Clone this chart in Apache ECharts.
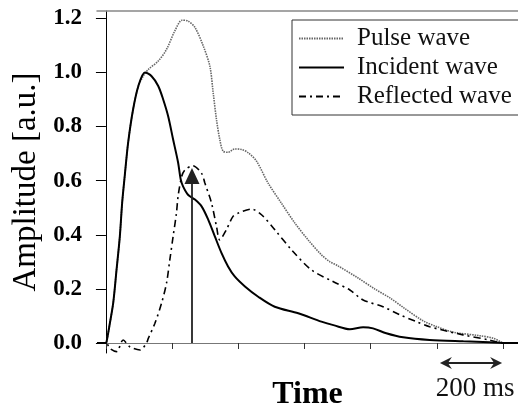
<!DOCTYPE html>
<html>
<head>
<meta charset="utf-8">
<script src="https://cdn.jsdelivr.net/npm/echarts@6/dist/echarts.min.js"></script>
<style>
html, body { margin: 0; padding: 0; background: #fff; }
#chart_main { width: 518px; height: 410px; }
</style>
</head>
<body>
<div id="chart_main"></div>
<script>
// time in ms, amplitude in a.u.
var pulseWave = [
	[-27,0],[0,0],[2,0.005],[12,0.074],[22,0.148],[32,0.27],[42,0.394],[49,0.518],[57,0.62],[67,0.74],
	[82,0.863],[98,0.95],[112,0.985],[128,1.011],[158,1.042],[183,1.085],[208,1.153],[230,1.193],[248,1.19],
	[269,1.166],[294,1.098],[314,1.023],[324,0.925],[334,0.826],[344,0.752],[354,0.709],[369,0.705],
	[389,0.717],[410,0.715],[430,0.703],[455,0.672],[490,0.591],[530,0.517],[571,0.443],[611,0.381],
	[651,0.326],[676,0.301],[701,0.285],[762,0.24],[812,0.2],[860,0.165],[900,0.13],[958,0.082],
	[1000,0.06],[1049,0.04],[1129,0.027],[1169,0.018],[1190,0.006],[1200,0],[1245,0]
];
var incidentWave = [
	[-27,0],[0,0],[2,0.005],[12,0.074],[22,0.148],[32,0.27],[42,0.394],[49,0.518],[57,0.62],[67,0.74],
	[82,0.863],[98,0.95],[118,1.0],[138,0.986],[158,0.95],[173,0.9],[188,0.838],[203,0.752],[218,0.667],
	[226,0.604],[233,0.579],[248,0.548],[269,0.53],[289,0.505],[309,0.456],[329,0.394],[349,0.333],
	[369,0.283],[389,0.246],[420,0.209],[460,0.171],[510,0.134],[581,0.11],[651,0.079],[690,0.065],
	[737,0.051],[777,0.058],[807,0.054],[847,0.036],[898,0.021],[978,0.011],[1080,0.006],[1159,0.003],
	[1200,0],[1245,0]
];
var reflectedWave = [
	[-27,0],[0,0],[12,-0.02],[32,-0.032],[52,0.011],[72,-0.014],[103,-0.026],[123,0.001],[128,0.017],
	[148,0.073],[168,0.147],[183,0.221],[193,0.307],[203,0.394],[213,0.48],[218,0.542],[229,0.616],
	[239,0.64],[262,0.655],[289,0.627],[299,0.591],[319,0.517],[334,0.431],[344,0.381],[364,0.419],
	[384,0.468],[400,0.48],[440,0.495],[470,0.474],[510,0.419],[561,0.344],[621,0.27],[686,0.227],
	[737,0.196],[777,0.159],[837,0.134],[888,0.104],[938,0.079],[978,0.06],[1079,0.03],[1159,0.011],
	[1200,0],[1245,0]
];
var seriesNames = ['Pulse wave', 'Incident wave', 'Reflected wave'];
var xTicks = [0, 200, 400, 600, 800, 1000, 1200];
var yTicks = [0, 0.2, 0.4, 0.6, 0.8, 1.0, 1.2];
var arrowAt = [260, 0.617];     // vertical arrow (time, head)
var scaleBar = [1000, 1200];    // 200 ms bar

var serif = "'Liberation Serif', 'Times New Roman', serif";

$ready();

function $ready() {
	var dom = document.getElementById("chart_main");
	var myChart = echarts.init(dom);
	var option = {
		animation: false,
		grid: { left: 97, top: 11, right: 0, bottom: 57, outerBoundsMode: 'none', containLabel: false },
		legend: {
			orient: 'vertical',
			left: 292,
			top: 20,
			data: seriesNames,
			itemWidth: 45,
			itemHeight: 12,
			itemGap: 4,
			padding: [6, 7, 6, 6],
			borderColor: '#333',
			borderWidth: 1,
			itemStyle: { opacity: 0 },
			textStyle: {
				fontFamily: serif,
				fontSize: 25,
				color: '#111',
				lineHeight: 25,
				padding: [0, 0, 0, 8]
			}
		},
		xAxis: [{
			type: 'value',
			min: -27,
			max: 1245,
			name: 'Time',
			nameLocation: 'middle',
			nameGap: 26,
			nameTextStyle: { fontFamily: serif, fontSize: 32, fontWeight: 'bold', color: '#000' },
			splitLine: { show: false },
			axisLine: { lineStyle: { color: '#777', width: 1 } },
			axisTick: { show: true, length: 6, customValues: xTicks, lineStyle: { color: '#333' } },
			axisLabel: { show: false }
		}, {
			type: 'value',
			position: 'top',
			min: -27,
			max: 1245,
			splitLine: { show: false },
			axisLine: { show: true, lineStyle: { color: '#888', width: 1.5 } },
			axisTick: { show: false },
			axisLabel: { show: false }
		}],
		yAxis: {
			type: 'value',
			min: -0.037,
			max: 1.227,
			name: 'Amplitude [a.u.]',
			nameLocation: 'middle',
			nameGap: 49,
			nameTextStyle: { fontFamily: serif, fontSize: 33, color: '#000' },
			splitLine: { show: false },
			axisLine: { show: true, lineStyle: { color: '#000', width: 1 } },
			axisTick: { show: true, length: 10, customValues: yTicks, lineStyle: { color: '#000' } },
			axisLabel: {
				customValues: yTicks,
				margin: 15,
				fontFamily: serif,
				fontSize: 23,
				fontWeight: 'bold',
				color: '#000',
				formatter: function (v) { return v.toFixed(1); }
			}
		},
		series: [{
			name: seriesNames[0],
			type: 'line',
			data: pulseWave,
			smooth: 0.3,
			symbol: 'none',
			lineStyle: { color: '#666', width: 1.6, type: [1.5, 1] },
			itemStyle: { color: '#666' }
		}, {
			name: seriesNames[1],
			type: 'line',
			data: incidentWave,
			smooth: 0.3,
			symbol: 'none',
			lineStyle: { color: '#000', width: 2 },
			itemStyle: { color: '#000' },
			markLine: {
				silent: true,
				symbol: ['none', 'triangle'],
				symbolSize: [15, 16],
				label: { show: false },
				lineStyle: { color: '#222', width: 1.8, type: 'solid' },
				data: [[{ coord: [arrowAt[0], 0] }, { coord: [arrowAt[0], arrowAt[1]] }]]
			}
		}, {
			name: seriesNames[2],
			type: 'line',
			data: reflectedWave,
			smooth: 0.3,
			symbol: 'none',
			lineStyle: { color: '#000', width: 1.6, type: [7, 4, 2, 4] },
			itemStyle: { color: '#000' }
		}]
	};
	if (option && typeof option === "object") {
		myChart.setOption(option, true);
	}
	drawScaleBar(myChart);
}

function drawScaleBar(myChart) {
	var p0 = myChart.convertToPixel({ xAxisIndex: 0, yAxisIndex: 0 }, [scaleBar[0], 0]);
	var p1 = myChart.convertToPixel({ xAxisIndex: 0, yAxisIndex: 0 }, [scaleBar[1], 0]);
	var x0 = p0[0] + 3, x1 = p1[0] - 1;
	var y = 363;
	myChart.setOption({
		graphic: [{
			type: 'line',
			shape: { x1: x0 + 4, y1: y, x2: x1 - 4, y2: y },
			style: { stroke: '#222', lineWidth: 2 }
		}, {
			type: 'polygon',
			shape: { points: [[x0, y], [x0 + 12, y - 6], [x0 + 8, y], [x0 + 12, y + 6]] },
			style: { fill: '#222' }
		}, {
			type: 'polygon',
			shape: { points: [[x1, y], [x1 - 12, y - 6], [x1 - 8, y], [x1 - 12, y + 6]] },
			style: { fill: '#222' }
		}, {
			type: 'text',
			x: (x0 + x1) / 2 + 4,
			y: 402,
			style: {
				text: '200 ms',
				font: "27px " + serif,
				fill: '#111',
				textAlign: 'center',
				textVerticalAlign: 'bottom'
			}
		}]
	});
}
</script>
</body>
</html>
